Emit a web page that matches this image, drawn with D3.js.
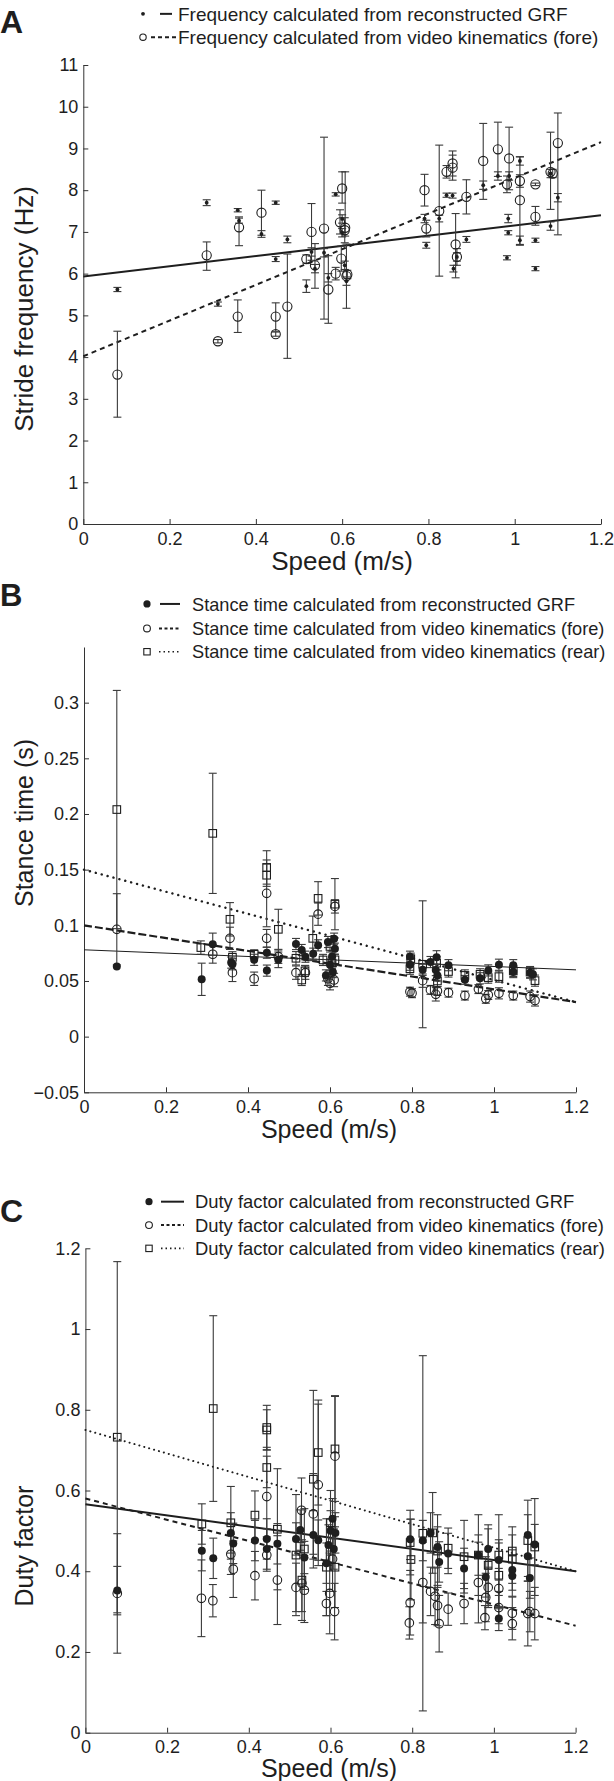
<!DOCTYPE html>
<html><head><meta charset="utf-8">
<script src="https://cdn.jsdelivr.net/npm/d3@7"></script>
<style>
body{margin:0;background:#fff}
svg{display:block}
text{font-family:"Liberation Sans",Arial,Helvetica,sans-serif;fill:#1e1e1e}
</style>
</head><body>
<svg id="chart" width="614" height="1781"></svg>
<script>
// ---------------- DATA ----------------
const speedTicks = [0, 0.2, 0.4, 0.6, 0.8, 1, 1.2];
const freqTicks = [0, 1, 2, 3, 4, 5, 6, 7, 8, 9, 10, 11];
const stanceTicks = [-0.05, 0, 0.05, 0.1, 0.15, 0.2, 0.25, 0.3];
const dutyTicks = [0, 0.2, 0.4, 0.6, 0.8, 1, 1.2];

const panelLetters = ["A", "B", "C"];
const axisXLabel = "Speed (m/s)";
const axisYLabels = ["Stride frequency (Hz)", "Stance time (s)", "Duty factor"];

const freqLegend = ["Frequency calculated from reconstructed GRF",
  "Frequency calculated from video kinematics (fore)"];
const stanceLegend = ["Stance time calculated from reconstructed GRF",
  "Stance time calculated from video kinematics (fore)",
  "Stance time calculated from video kinematics (rear)"];
const dutyLegend = ["Duty factor calculated from reconstructed GRF",
  "Duty factor calculated from video kinematics (fore)",
  "Duty factor calculated from video kinematics (rear)"];

// [speed, value, errDown, errUp]
const freqGrf = [
  [0.079,5.62,0.05,0.05],[0.286,7.70,0.07,0.07],[0.312,5.27,0.05,0.05],[0.358,7.52,0.04,0.04],
  [0.361,7.27,0.06,0.06],[0.413,6.95,0.08,0.08],[0.446,7.70,0.04,0.04],[0.446,6.35,0.06,0.06],
  [0.473,6.82,0.08,0.08],[0.517,5.70,0.15,0.15],[0.529,6.52,0.1,0.1],[0.537,6.12,0.1,0.1],
  [0.558,6.50,0.1,0.1],[0.568,5.90,0.1,0.1],[0.585,7.90,0.04,0.04],[0.600,7.31,0.1,0.1],
  [0.600,6.98,0.1,0.1],[0.606,6.20,0.1,0.1],[0.610,5.82,0.1,0.1],[0.791,7.32,0.1,0.1],
  [0.795,6.68,0.07,0.07],[0.825,7.32,0.08,0.08],[0.842,7.88,0.05,0.05],[0.856,7.87,0.06,0.06],
  [0.858,6.12,0.08,0.08],[0.866,6.40,0.1,0.1],[0.888,6.82,0.07,0.07],[0.927,8.12,0.1,0.1],
  [0.961,8.34,0.1,0.1],[0.985,7.32,0.1,0.1],[0.985,6.98,0.05,0.05],[0.982,6.38,0.05,0.05],
  [1.012,8.70,0.1,0.1],[1.012,6.80,0.1,0.1],[1.048,6.80,0.05,0.05],[1.048,6.12,0.05,0.05],
  [1.083,7.14,0.1,0.1],[1.100,7.82,0.1,0.1],[1.083,8.40,0.1,0.1],[0.987,8.34,0.1,0.1]
];
const freqFore = [
  [0.079,3.58,1.02,1.04],[0.286,6.44,0.36,0.32],[0.312,4.38,0.04,0.04],[0.358,4.97,0.38,0.40],
  [0.361,7.11,0.44,0.25],[0.413,7.46,0.54,0.54],[0.446,4.97,0.35,0.33],[0.446,4.55,0.05,0.05],
  [0.473,5.21,1.24,1.26],[0.517,6.35,0.1,0.1],[0.529,7.00,0.68,0.68],[0.537,6.20,0.55,0.52],
  [0.558,7.08,2.17,2.19],[0.568,5.62,0.81,0.81],[0.585,6.00,0.15,0.15],[0.595,7.23,0.28,0.30],
  [0.600,8.04,0.35,0.40],[0.598,6.36,0.3,0.3],[0.606,7.04,0.3,0.3],[0.607,7.10,0.2,1.34],
  [0.610,5.94,0.77,0.77],[0.612,5.98,0.1,0.1],[0.791,8.00,0.38,0.38],[0.795,7.08,0.2,0.2],
  [0.825,7.50,1.56,1.58],[0.842,8.44,0.15,0.15],[0.856,8.64,0.3,0.3],[0.856,8.54,0.3,0.3],
  [0.863,6.70,0.8,0.74],[0.866,6.40,0.2,0.2],[0.888,7.84,0.41,0.41],[0.927,8.70,0.92,0.90],
  [0.961,8.98,0.65,0.65],[0.987,8.76,0.75,0.75],[0.982,8.14,0.2,0.2],[1.012,8.22,0.15,0.15],
  [1.012,7.76,1.08,1.04],[1.048,8.14,0.03,0.03],[1.048,7.36,0.2,0.25],[1.083,8.44,0.9,0.95],
  [1.088,8.40,0.1,0.1],[1.100,9.13,2.2,0.72]
];
// fitted values at speed 0 and 1.2
const freqFitGrf = [5.93, 7.40];
const freqFitFore = [4.02, 9.15];

const stanceGrf = [
  [0.080,0.063,0,0],[0.287,0.0515,0.0145,0.0145],[0.314,0.083,0.01,0.01],[0.359,0.0665,0.005,0.005],
  [0.362,0.065,0.005,0.005],[0.415,0.069,0.005,0.005],[0.446,0.0754,0.005,0.005],[0.446,0.0593,0.005,0.005],
  [0.474,0.069,0.007,0.007],[0.517,0.0832,0.005,0.005],[0.531,0.0778,0.005,0.005],[0.540,0.0718,0.005,0.005],
  [0.559,0.0745,0.005,0.005],[0.571,0.082,0.005,0.005],[0.590,0.055,0.005,0.005],[0.595,0.085,0.005,0.005],
  [0.600,0.0646,0.005,0.005],[0.605,0.072,0.005,0.005],[0.607,0.058,0.005,0.005],[0.610,0.088,0.005,0.005],
  [0.612,0.079,0.005,0.005],[0.795,0.0646,0.005,0.005],[0.795,0.0718,0.005,0.005],[0.826,0.060,0.005,0.005],
  [0.845,0.067,0.005,0.005],[0.860,0.0712,0.006,0.006],[0.858,0.0598,0.005,0.005],[0.862,0.055,0.005,0.005],
  [0.889,0.0642,0.005,0.005],[0.929,0.051,0.004,0.004],[0.966,0.0524,0.005,0.005],[0.986,0.0595,0.005,0.005],
  [1.012,0.0646,0.005,0.005],[1.047,0.0642,0.005,0.005],[1.047,0.058,0.005,0.005],[1.088,0.0574,0.005,0.005],
  [1.095,0.056,0.005,0.005]
];
const stanceFore = [
  [0.080,0.0964,0.032,0.032],[0.314,0.074,0.008,0.008],[0.356,0.0883,0.01,0.01],[0.362,0.0575,0.008,0.008],
  [0.415,0.052,0.006,0.006],[0.4455,0.1287,0.03,0.03],[0.4455,0.0883,0.008,0.008],[0.474,0.0718,0.006,0.006],
  [0.517,0.0575,0.006,0.006],[0.540,0.0575,0.006,0.006],[0.571,0.110,0.01,0.01],[0.595,0.052,0.006,0.006],
  [0.600,0.048,0.006,0.006],[0.610,0.0509,0.006,0.006],[0.612,0.117,0.006,0.006],[0.795,0.0404,0.004,0.004],
  [0.800,0.039,0.004,0.004],[0.826,0.0503,0.006,0.006],[0.845,0.042,0.004,0.004],[0.858,0.038,0.006,0.006],
  [0.862,0.0410,0.004,0.004],[0.889,0.0395,0.004,0.004],[0.929,0.0369,0.004,0.004],[0.962,0.0427,0.004,0.004],
  [0.986,0.0374,0.004,0.004],[1.012,0.0389,0.005,0.005],[1.047,0.0369,0.004,0.004],[1.088,0.036,0.005,0.005],
  [1.100,0.0325,0.005,0.005],[0.980,0.034,0.004,0.004]
];
const stanceRear = [
  [0.080,0.204,0.107,0.107],[0.285,0.080,0.006,0.006],[0.314,0.1826,0.054,0.054],[0.356,0.1054,0.015,0.015],
  [0.362,0.0713,0.005,0.005],[0.415,0.074,0.004,0.004],[0.4455,0.152,0.015,0.015],[0.4455,0.145,0.01,0.01],
  [0.474,0.0964,0.018,0.018],[0.517,0.0704,0.006,0.006],[0.531,0.0509,0.005,0.005],[0.539,0.059,0.005,0.005],
  [0.558,0.0883,0.02,0.02],[0.571,0.1242,0.015,0.015],[0.583,0.0689,0.005,0.005],[0.600,0.081,0.005,0.005],
  [0.605,0.066,0.005,0.005],[0.612,0.119,0.023,0.023],[0.612,0.069,0.005,0.005],[0.795,0.0610,0.005,0.005],
  [0.797,0.070,0.005,0.005],[0.826,0.065,0.057,0.057],[0.860,0.0660,0.006,0.006],[0.862,0.050,0.005,0.005],
  [0.889,0.0585,0.005,0.005],[0.929,0.055,0.005,0.005],[0.966,0.056,0.005,0.005],[0.986,0.053,0.005,0.005],
  [1.012,0.0539,0.005,0.005],[1.047,0.059,0.005,0.005],[1.088,0.058,0.005,0.005],[1.100,0.0503,0.005,0.005]
];
const stanceFitGrf = [0.078, 0.060];
const stanceFitFore = [0.100, 0.031];
const stanceFitRear = [0.150, 0.031];

const dutyGrf = [
  [0.078,0.352,0.06,0.06],[0.285,0.451,0.05,0.05],[0.313,0.432,0.05,0.05],[0.356,0.495,0.05,0.05],
  [0.362,0.469,0.05,0.05],[0.415,0.476,0.05,0.05],[0.444,0.480,0.05,0.05],[0.444,0.455,0.05,0.05],
  [0.470,0.468,0.05,0.05],[0.5155,0.480,0.04,0.04],[0.526,0.502,0.05,0.05],[0.536,0.434,0.04,0.04],
  [0.558,0.490,0.06,0.06],[0.570,0.477,0.05,0.05],[0.590,0.420,0.05,0.05],[0.595,0.465,0.05,0.05],
  [0.600,0.500,0.05,0.05],[0.605,0.530,0.05,0.05],[0.608,0.455,0.05,0.05],[0.612,0.495,0.05,0.05],
  [0.795,0.479,0.05,0.05],[0.826,0.476,0.05,0.05],[0.845,0.495,0.05,0.05],[0.862,0.460,0.05,0.05],
  [0.866,0.423,0.05,0.05],[0.888,0.444,0.05,0.05],[0.927,0.407,0.05,0.05],[0.962,0.440,0.05,0.05],
  [0.986,0.455,0.05,0.05],[0.980,0.386,0.05,0.05],[1.012,0.428,0.05,0.05],[1.012,0.283,0.03,0.03],
  [1.045,0.403,0.05,0.05],[1.045,0.388,0.05,0.05],[1.083,0.437,0.05,0.05],[1.088,0.383,0.05,0.05],
  [1.100,0.466,0.05,0.05],[1.083,0.490,0.05,0.05]
];
const dutyFore = [
  [0.078,0.345,0.148,0.148],[0.284,0.333,0.095,0.095],[0.312,0.327,0.04,0.04],[0.356,0.442,0.05,0.05],
  [0.362,0.405,0.07,0.07],[0.415,0.389,0.06,0.06],[0.444,0.585,0.1,0.1],[0.444,0.440,0.04,0.04],
  [0.470,0.378,0.11,0.11],[0.5155,0.360,0.06,0.06],[0.529,0.551,0.08,0.08],[0.536,0.353,0.08,0.08],
  [0.530,0.370,0.07,0.07],[0.558,0.542,0.1,0.1],[0.570,0.614,0.2,0.2],[0.590,0.320,0.03,0.03],
  [0.598,0.345,0.1,0.1],[0.605,0.430,0.08,0.08],[0.611,0.685,0.15,0.15],[0.610,0.300,0.07,0.07],
  [0.795,0.322,0.08,0.08],[0.793,0.272,0.04,0.04],[0.826,0.372,0.1,0.1],[0.845,0.350,0.06,0.06],
  [0.856,0.338,0.07,0.07],[0.862,0.315,0.05,0.05],[0.866,0.270,0.07,0.07],[0.888,0.306,0.04,0.04],
  [0.927,0.320,0.05,0.05],[0.962,0.372,0.1,0.1],[0.980,0.335,0.06,0.06],[0.978,0.285,0.03,0.03],
  [0.986,0.360,0.05,0.05],[1.012,0.357,0.05,0.05],[1.012,0.310,0.04,0.04],[1.045,0.296,0.04,0.04],
  [1.045,0.270,0.04,0.04],[1.083,0.295,0.08,0.08],[1.088,0.300,0.05,0.05],[1.100,0.295,0.065,0.065]
];
const dutyRear = [
  [0.078,0.732,0.435,0.435],[0.285,0.517,0.05,0.05],[0.313,0.803,0.23,0.23],[0.356,0.520,0.09,0.09],
  [0.415,0.539,0.06,0.06],[0.444,0.756,0.055,0.055],[0.444,0.750,0.05,0.05],[0.444,0.657,0.05,0.05],
  [0.470,0.504,0.15,0.15],[0.5155,0.440,0.15,0.15],[0.536,0.455,0.1,0.1],[0.530,0.378,0.1,0.1],
  [0.558,0.628,0.22,0.22],[0.570,0.694,0.13,0.13],[0.590,0.410,0.12,0.12],[0.600,0.520,0.08,0.08],
  [0.611,0.703,0.13,0.13],[0.611,0.410,0.1,0.1],[0.795,0.471,0.08,0.08],[0.797,0.429,0.1,0.1],
  [0.826,0.494,0.44,0.44],[0.850,0.495,0.1,0.1],[0.862,0.450,0.09,0.09],[0.888,0.457,0.05,0.05],
  [0.927,0.436,0.09,0.09],[0.962,0.440,0.1,0.1],[0.986,0.415,0.1,0.1],[1.012,0.440,0.1,0.1],
  [1.012,0.390,0.08,0.08],[1.045,0.450,0.06,0.06],[1.045,0.430,0.06,0.06],[1.083,0.476,0.1,0.1],
  [1.100,0.460,0.12,0.12]
];
const dutyFitGrf = [0.566, 0.400];
const dutyFitFore = [0.580, 0.265];
const dutyFitRear = [0.750, 0.400];

// ---------------- DRAWING ----------------
const svg = d3.select("#chart");
const INK = "#1e1e1e", BAR = "#3a3a3a";

function fmt(d) { return d < 0 ? "\u2212" + String(Math.abs(d)) : String(d); }

function drawMarker(g, type, cx, cy, s) {
  if (type === "dot") {
    g.append("circle").attr("cx", cx).attr("cy", cy).attr("r", s).attr("fill", INK);
  } else if (type === "circle") {
    g.append("circle").attr("cx", cx).attr("cy", cy).attr("r", s)
      .attr("fill", "none").attr("stroke", INK).attr("stroke-width", 1.1);
  } else {
    g.append("rect").attr("x", cx - s).attr("y", cy - s).attr("width", 2 * s).attr("height", 2 * s)
      .attr("fill", "none").attr("stroke", INK).attr("stroke-width", 1.1);
  }
}

function panel(cfg) {
  const g = svg.append("g");
  const x = d3.scaleLinear().domain([0, 1.2]).range(cfg.xr);
  const y = d3.scaleLinear().domain(cfg.yd).range(cfg.yr);

  // axes
  const xAxis = d3.axisBottom(x).tickValues(speedTicks).tickFormat(fmt)
    .tickSizeInner(-5).tickSizeOuter(0).tickPadding(8);
  const yAxis = d3.axisLeft(y).tickValues(cfg.yTicks).tickFormat(fmt)
    .tickSizeInner(-5).tickSizeOuter(0).tickPadding(5);
  const gx = g.append("g").attr("transform", `translate(0,${y(cfg.yd[0])})`).call(xAxis);
  const gy = g.append("g").attr("transform", `translate(${x(0)},0)`).call(yAxis);
  [gx, gy].forEach(a => {
    a.selectAll("path,line").attr("stroke", "#333").attr("stroke-width", 1);
    a.selectAll("text").attr("font-size", cfg.tickFont).attr("fill", INK)
      .attr("font-family", "Liberation Sans, Arial, sans-serif");
  });

  // fit lines
  cfg.fits.forEach(f => {
    g.append("line").attr("x1", x(0)).attr("x2", x(1.2))
      .attr("y1", y(f.vals[0])).attr("y2", y(f.vals[1]))
      .attr("stroke", INK).attr("stroke-width", f.w)
      .attr("stroke-dasharray", f.dash || null)
      .attr("stroke-linecap", f.cap || "butt");
  });

  // error bars
  cfg.series.forEach(s => {
    s.data.forEach(d => {
      const x0 = x(d[0]), yl = y(d[1] - d[2]), yh = y(d[1] + d[3]);
      if (d[2] + d[3] > 0) {
        g.append("line").attr("x1", x0).attr("x2", x0).attr("y1", yl).attr("y2", yh)
          .attr("stroke", BAR).attr("stroke-width", 1.1);
        [yl, yh].forEach(yy => g.append("line").attr("x1", x0 - cfg.cap).attr("x2", x0 + cfg.cap)
          .attr("y1", yy).attr("y2", yy).attr("stroke", BAR).attr("stroke-width", 1.1));
      }
    });
  });
  // markers (open first, filled dots last)
  cfg.series.slice().sort((a, b) => (a.type === "dot") - (b.type === "dot")).forEach(s => {
    s.data.forEach(d => drawMarker(g, s.type, x(d[0]), y(d[1]), s.size));
  });

  // labels
  g.append("text").attr("x", cfg.letter[0]).attr("y", cfg.letter[1])
    .attr("font-size", cfg.letter[2]).attr("font-weight", "bold").text(cfg.letterText);
  g.append("text").attr("x", cfg.xlab[0]).attr("y", cfg.xlab[1]).attr("text-anchor", "middle")
    .attr("font-size", cfg.xlab[2]).text(axisXLabel);
  g.append("text").attr("transform", `translate(${cfg.ylab[0]},${cfg.ylab[1]}) rotate(-90)`)
    .attr("text-anchor", "middle").attr("font-size", cfg.ylab[2]).text(cfg.ylabText);

  // legend
  cfg.legend.forEach((L, i) => {
    const by = cfg.legY[i];
    const cy = by - cfg.legFont * 0.36;
    drawMarker(g, L.type, cfg.legMarkX, cy, L.size);
    g.append("line").attr("x1", L.l0).attr("x2", L.l1).attr("y1", cy).attr("y2", cy)
      .attr("stroke", INK).attr("stroke-width", L.w).attr("stroke-dasharray", L.dash || null);
    g.append("text").attr("x", cfg.legTextX).attr("y", by).attr("font-size", cfg.legFont).text(L.text);
  });
}

panel({
  xr: [83.3, 601], yd: [0, 11], yr: [524, 65], yTicks: freqTicks, tickFont: 18, cap: 4,
  fits: [{vals: freqFitGrf, w: 2}, {vals: freqFitFore, w: 2, dash: "5,4"}],
  series: [{data: freqFore, type: "circle", size: 4.6}, {data: freqGrf, type: "dot", size: 1.9}],
  letterText: panelLetters[0], letter: [0, 33, 32],
  xlab: [342, 570, 26], ylab: [33, 309, 26], ylabText: axisYLabels[0],
  legFont: 19, legY: [20.7, 44], legMarkX: 143, legTextX: 178,
  legend: [
    {type: "dot", size: 1.9, l0: 160, l1: 172, w: 2, text: freqLegend[0]},
    {type: "circle", size: 3.2, l0: 151, l1: 176, w: 2, dash: "4,3", text: freqLegend[1]}
  ]
});

panel({
  xr: [84, 576], yd: [-0.05, 0.35], yr: [1092.3, 647], yTicks: stanceTicks, tickFont: 18, cap: 4,
  fits: [{vals: stanceFitGrf, w: 1}, {vals: stanceFitFore, w: 2.2, dash: "8,3"},
         {vals: stanceFitRear, w: 2.4, dash: "0.1,6", cap: "round"}],
  series: [{data: stanceRear, type: "square", size: 3.8}, {data: stanceFore, type: "circle", size: 4.3},
           {data: stanceGrf, type: "dot", size: 4}],
  letterText: panelLetters[1], letter: [0, 606, 31],
  xlab: [329, 1138, 25], ylab: [33, 823, 25], ylabText: axisYLabels[1],
  legFont: 18.2, legY: [610.5, 635, 658.3], legMarkX: 147, legTextX: 192,
  legend: [
    {type: "dot", size: 3.6, l0: 160, l1: 180, w: 2, text: stanceLegend[0]},
    {type: "circle", size: 3.4, l0: 159, l1: 180, w: 2, dash: "3,2.5", text: stanceLegend[1]},
    {type: "square", size: 3.2, l0: 159, l1: 180, w: 1.6, dash: "1.5,3", text: stanceLegend[2]}
  ]
});

panel({
  xr: [85.4, 575.6], yd: [0, 1.2], yr: [1732.7, 1248.3], yTicks: dutyTicks, tickFont: 18, cap: 4,
  fits: [{vals: dutyFitGrf, w: 2}, {vals: dutyFitFore, w: 2, dash: "5,4"},
         {vals: dutyFitRear, w: 2, dash: "0.1,5", cap: "round"}],
  series: [{data: dutyRear, type: "square", size: 3.8}, {data: dutyFore, type: "circle", size: 4.3},
           {data: dutyGrf, type: "dot", size: 4}],
  letterText: panelLetters[2], letter: [0, 1222, 32],
  xlab: [329, 1777, 25], ylab: [33, 1546, 25], ylabText: axisYLabels[2],
  legFont: 18.4, legY: [1208.3, 1231.7, 1255], legMarkX: 149, legTextX: 195,
  legend: [
    {type: "dot", size: 3.6, l0: 161, l1: 184, w: 2, text: dutyLegend[0]},
    {type: "circle", size: 3.4, l0: 161, l1: 184, w: 2, dash: "3,2.5", text: dutyLegend[1]},
    {type: "square", size: 3.2, l0: 161, l1: 184, w: 1.6, dash: "1.5,3", text: dutyLegend[2]}
  ]
});
</script>
</body></html>
